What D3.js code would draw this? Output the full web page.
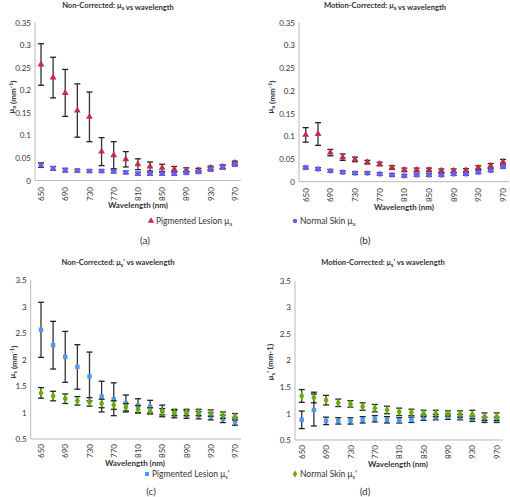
<!DOCTYPE html>
<html><head><meta charset="utf-8">
<script src="https://cdn.jsdelivr.net/npm/d3@7"></script>
<style>
body{margin:0;background:#fff;}
svg{display:block;font-family:Lato,"Open Sans",sans-serif;}
</style></head>
<body><svg id="c" width="510" height="497"></svg>
<script>
const wavelengths = [650,670,690,710,730,750,770,790,810,830,850,870,890,910,930,950,970];
const xTickLabels = [650,690,730,770,810,850,890,930,970];
const muaTicks = [0,0.05,0.1,0.15,0.2,0.25,0.3,0.35];
const musTicks = [0.5,1,1.5,2,2.5,3,3.5];

const aLesion    = [0.257,0.228,0.194,0.155,0.141,0.064,0.056,0.047,0.036,0.031,0.028,0.025,0.023,0.023,0.028,0.030,0.039];
const aLesionErr = [0.046,0.045,0.052,0.059,0.055,0.031,0.030,0.017,0.012,0.010,0.008,0.006,0.005,0.004,0.004,0.004,0.004];
const aNormal    = [0.034,0.027,0.023,0.022,0.021,0.021,0.020,0.018,0.015,0.015,0.015,0.015,0.017,0.019,0.025,0.030,0.036];
const aNormalErr = [0.005,0.004,0.004,0.003,0.003,0.003,0.003,0.003,0.003,0.003,0.003,0.003,0.003,0.003,0.004,0.004,0.004];

const bLesion    = [0.103,0.105,0.064,0.054,0.049,0.043,0.039,0.031,0.026,0.026,0.026,0.024,0.024,0.025,0.031,0.035,0.044];
const bLesionErr = [0.016,0.025,0.007,0.007,0.005,0.004,0.004,0.004,0.004,0.004,0.004,0.004,0.004,0.004,0.004,0.005,0.005];
const bNormal    = [0.031,0.028,0.024,0.021,0.019,0.019,0.017,0.015,0.013,0.015,0.015,0.015,0.017,0.017,0.021,0.025,0.033];
const bNormalErr = [0.003,0.003,0.003,0.003,0.003,0.003,0.003,0.003,0.003,0.003,0.003,0.003,0.003,0.003,0.003,0.003,0.003];

const cLesion    = [2.56,2.27,2.05,1.86,1.68,1.30,1.25,1.17,1.13,1.11,1.03,0.97,0.96,0.95,0.93,0.88,0.83];
const cLesionErr = [0.52,0.45,0.48,0.42,0.46,0.29,0.31,0.16,0.13,0.12,0.11,0.07,0.07,0.07,0.07,0.07,0.07];
const cNormal    = [1.37,1.31,1.26,1.22,1.20,1.17,1.14,1.10,1.06,1.03,1.015,1.00,1.00,1.00,0.99,0.95,0.92];
const cNormalErr = [0.10,0.09,0.09,0.08,0.08,0.08,0.08,0.07,0.07,0.06,0.06,0.06,0.06,0.06,0.06,0.06,0.06];

const dLesion    = [0.88,1.065,0.86,0.86,0.86,0.88,0.90,0.88,0.87,0.88,0.92,0.93,0.94,0.93,0.90,0.88,0.88];
const dLesionErr = [0.165,0.30,0.07,0.06,0.06,0.06,0.06,0.06,0.05,0.05,0.05,0.05,0.05,0.05,0.05,0.05,0.05];
const dNormal    = [1.33,1.30,1.25,1.20,1.18,1.13,1.10,1.065,1.03,1.02,1.00,1.00,1.00,0.99,0.98,0.94,0.94];
const dNormalErr = [0.12,0.10,0.09,0.07,0.06,0.07,0.07,0.07,0.07,0.06,0.06,0.06,0.05,0.06,0.08,0.07,0.07];

const RED = "#c8284a", PURPLE = "#6a5cf2", LBLUE = "#4b9cf0", GREEN = "#6aab0c";

const svg = d3.select("#c");

function addMu(sel, sub, prime, size) {
  sel.append("tspan").text("\u03bc");
  sel.append("tspan").attr("font-size", size*0.7).attr("dy", 2).text(sub);
  sel.append("tspan").attr("dy", -2).text(prime ? "'" : "");
}

function panel(cfg) {
  const g = svg.append("g");
  const x = d3.scalePoint().domain(wavelengths).range([cfg.x0, cfg.x1]);
  const step = x.step();
  const y = d3.scaleLinear().domain(cfg.yDomain).range([cfg.yB, cfg.yT]);

  g.append("line").attr("x1", cfg.ax).attr("x2", cfg.ax).attr("y1", cfg.yT).attr("y2", cfg.yB)
    .attr("stroke", "#b8b8b8").attr("stroke-width", 1);
  g.append("line").attr("x1", cfg.ax).attr("x2", cfg.x1 + step/2).attr("y1", cfg.yB).attr("y2", cfg.yB)
    .attr("stroke", "#b8b8b8").attr("stroke-width", 1);

  const yAxis = d3.axisLeft(y).tickValues(cfg.yTicks).tickSize(0).tickPadding(4)
    .tickFormat(v => String(+v.toFixed(2)));
  const ya = g.append("g").attr("transform", `translate(${cfg.ax},0)`).call(yAxis);
  ya.select(".domain").remove();
  ya.selectAll("text").attr("font-size", 8).attr("fill", "#333").attr("font-family", "Lato");

  const xAxis = d3.axisBottom(x).tickValues(xTickLabels).tickSize(0);
  const xa = g.append("g").attr("transform", `translate(0,${cfg.yB})`).call(xAxis);
  xa.select(".domain").remove();
  xa.selectAll("text").attr("font-size", 8).attr("fill", "#333").attr("font-family", "Lato")
    .attr("transform", `translate(0,${cfg.xlPad}) rotate(-90)`).attr("x", 0).attr("y", 0)
    .attr("dy", "0.32em").attr("text-anchor", "end");

  const t = g.append("text").attr("x", cfg.title[0]).attr("y", cfg.title[1]).attr("text-anchor", "middle")
    .attr("font-size", 7.6).attr("font-weight", "bold").attr("fill", "#333");
  t.append("tspan").text(cfg.titlePre);
  addMu(t, cfg.sub, cfg.prime, 7.6);
  t.append("tspan").text(" vs wavelength");

  g.append("text").attr("x", cfg.xt[0]).attr("y", cfg.xt[1]).attr("text-anchor", "middle")
    .attr("dominant-baseline", "middle").attr("font-size", 8).attr("font-weight", "bold")
    .attr("fill", "#333").text("Wavelength (nm)");

  const yt = g.append("text").attr("transform", `translate(${cfg.yt[0]},${cfg.yt[1]}) rotate(-90)`)
    .attr("text-anchor", "middle").attr("font-size", 8).attr("font-weight", "bold").attr("fill", "#333")
    .attr("dy", "0.35em");
  addMu(yt, cfg.ysub, cfg.yprime, 8);
  if (cfg.ysupStyle) {
    yt.append("tspan").text(" (mm");
    yt.append("tspan").attr("font-size", 6).attr("dy", -3).text("-1");
    yt.append("tspan").attr("dy", 3).text(")");
  } else {
    yt.append("tspan").text(" (mm-1)");
  }

  cfg.series.forEach(s => {
    const eg = g.append("g");
    wavelengths.forEach((w, i) => {
      const cx = x(w), v = s.values[i], e = s.err[i];
      const yt1 = y(v + e), yb1 = y(v - e);
      eg.append("line").attr("x1", cx).attr("x2", cx).attr("y1", yt1).attr("y2", yb1)
        .attr("stroke", "#333").attr("stroke-width", 1.3);
      [yt1, yb1].forEach(yy => eg.append("line").attr("x1", cx - 3).attr("x2", cx + 3)
        .attr("y1", yy).attr("y2", yy).attr("stroke", "#222").attr("stroke-width", 1.3));
    });
    const sym = d3.symbol().type(s.symbol).size(s.size);
    g.append("g").selectAll("path").data(s.values).join("path")
      .attr("transform", (v, i) => `translate(${x(wavelengths[i])},${y(v)})`)
      .attr("d", sym).attr("fill", s.color);
  });

  const lg = cfg.legend;
  g.append("path").attr("transform", `translate(${lg.x},${lg.y})`)
    .attr("d", d3.symbol().type(lg.symbol).size(lg.size)).attr("fill", lg.color);
  const lt = g.append("text").attr("x", lg.x + 5).attr("y", lg.y).attr("dy", "0.35em")
    .attr("font-size", 8.5).attr("fill", "#333");
  lt.append("tspan").text(lg.text);
  addMu(lt, lg.sub, lg.prime, 8.5);

  svg.append("text").attr("x", cfg.cap[0]).attr("y", cfg.cap[1]).attr("text-anchor", "middle")
    .attr("dominant-baseline", "middle").attr("font-size", 10).attr("fill", "#333")
    .attr("font-family", "Lato").text(cfg.capText);
}

panel({
  x0: 41, x1: 234.8, ax: 35, yT: 22.5, yB: 180.5, yDomain: [0, 0.35], yTicks: muaTicks, xlPad: 6.5,
  title: [118, 8], titlePre: "Non-Corrected:  ", sub: "a", prime: false,
  xt: [138, 206], yt: [11, 97], ysub: "a", yprime: false, ysupStyle: true,
  series: [
    {values: aLesion, err: aLesionErr, symbol: d3.symbolTriangle, size: 20, color: RED},
    {values: aNormal, err: aNormalErr, symbol: d3.symbolSquare, size: 22, color: PURPLE}
  ],
  legend: {x: 151, y: 221, symbol: d3.symbolTriangle, size: 18, color: RED, text: "Pigmented Lesion ", sub: "a", prime: false},
  cap: [145, 241], capText: "(a)"
});
panel({
  x0: 305.7, x1: 503, ax: 299, yT: 22.7, yB: 181.7, yDomain: [0, 0.35], yTicks: muaTicks, xlPad: 6.5,
  title: [385, 8], titlePre: "Motion-Corrected:  ", sub: "a", prime: false,
  xt: [404, 208], yt: [270, 97], ysub: "a", yprime: false, ysupStyle: true,
  series: [
    {values: bLesion, err: bLesionErr, symbol: d3.symbolTriangle, size: 20, color: RED},
    {values: bNormal, err: bNormalErr, symbol: d3.symbolCircle, size: 22, color: PURPLE}
  ],
  legend: {x: 295, y: 221, symbol: d3.symbolCircle, size: 16, color: PURPLE, text: "Normal Skin ", sub: "a", prime: false},
  cap: [365, 241], capText: "(b)"
});
panel({
  x0: 41, x1: 235, ax: 30.7, yT: 280, yB: 439, yDomain: [0.5, 3.5], yTicks: musTicks, xlPad: 5,
  title: [118, 265], titlePre: "Non-Corrected:  ", sub: "s", prime: true,
  xt: [135, 464], yt: [12, 362], ysub: "s", yprime: false, ysupStyle: true,
  series: [
    {values: cLesion, err: cLesionErr, symbol: d3.symbolSquare, size: 20, color: LBLUE},
    {values: cNormal, err: cNormalErr, symbol: d3.symbolDiamond, size: 22, color: GREEN}
  ],
  legend: {x: 147, y: 474, symbol: d3.symbolSquare, size: 16, color: LBLUE, text: "Pigmented Lesion ", sub: "s", prime: true},
  cap: [151, 492], capText: "(c)"
});
panel({
  x0: 301.7, x1: 496.7, ax: 295, yT: 280.7, yB: 440, yDomain: [0.5, 3.5], yTicks: musTicks, xlPad: 5,
  title: [383, 265], titlePre: "Motion-Corrected:  ", sub: "s", prime: true,
  xt: [398, 465], yt: [270, 362], ysub: "s", yprime: true, ysupStyle: false,
  series: [
    {values: dLesion, err: dLesionErr, symbol: d3.symbolSquare, size: 20, color: LBLUE},
    {values: dNormal, err: dNormalErr, symbol: d3.symbolDiamond, size: 22, color: GREEN}
  ],
  legend: {x: 295, y: 474, symbol: d3.symbolDiamond, size: 16, color: GREEN, text: "Normal Skin ", sub: "s", prime: true},
  cap: [365, 492], capText: "(d)"
});
</script></body></html>
